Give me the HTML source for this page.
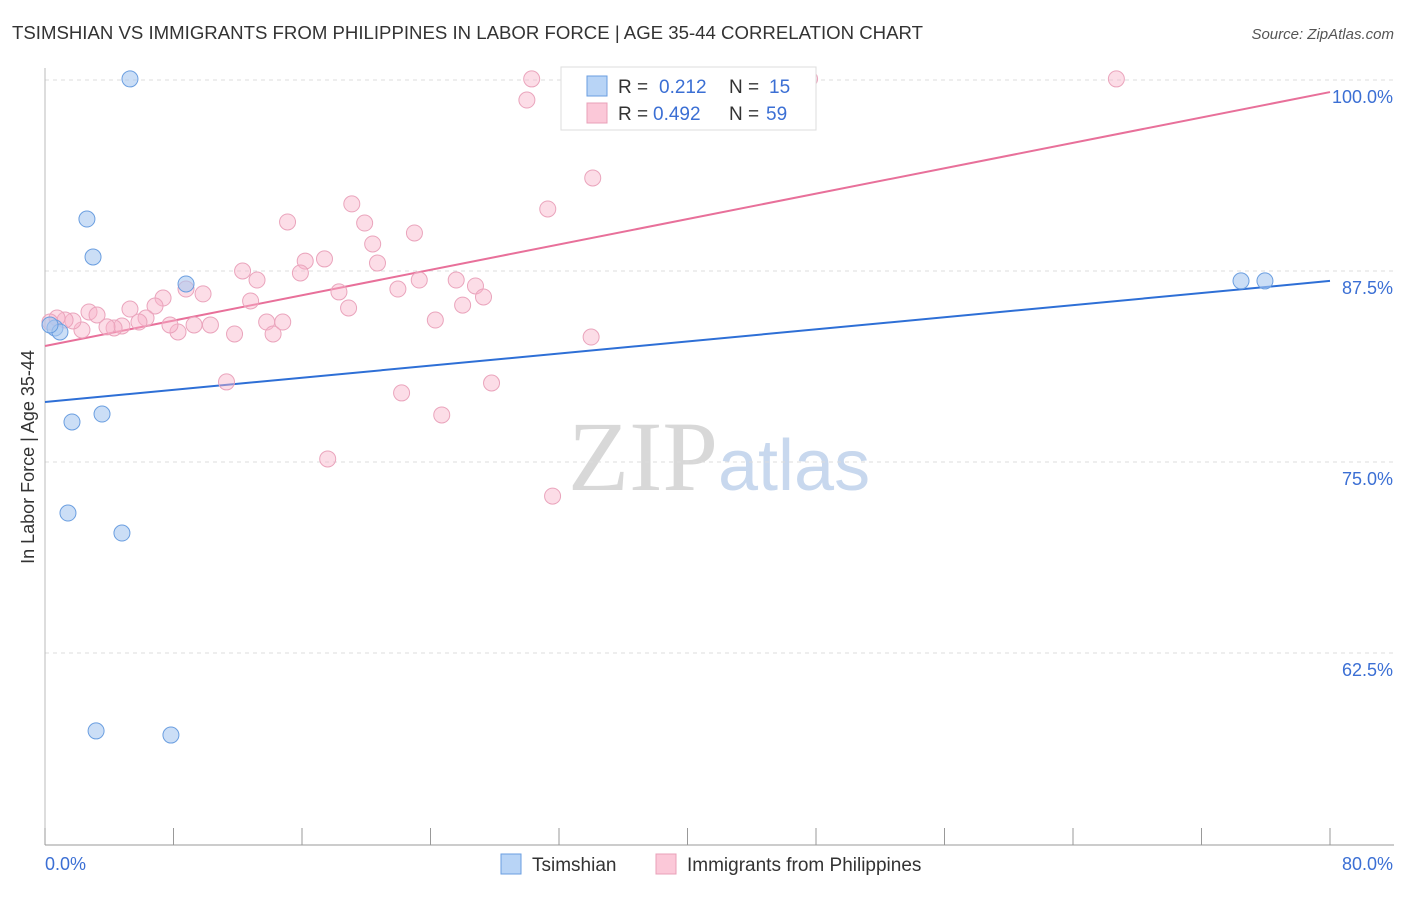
<!DOCTYPE html>
<html><head><meta charset="utf-8"><style>
body{margin:0;background:#fff;font-family:"Liberation Sans",sans-serif;}
</style></head><body>
<svg id="chart" width="1406" height="892" xmlns="http://www.w3.org/2000/svg" font-family="Liberation Sans, sans-serif">
<text x="12" y="39" font-size="18" fill="#333" textLength="911" lengthAdjust="spacingAndGlyphs">TSIMSHIAN VS IMMIGRANTS FROM PHILIPPINES IN LABOR FORCE | AGE 35-44 CORRELATION CHART</text>
<text x="1394" y="39" font-size="15" fill="#555" text-anchor="end" font-style="italic">Source: ZipAtlas.com</text>
<text transform="translate(34,457) rotate(-90)" font-size="18" fill="#333" text-anchor="middle">In Labor Force | Age 35-44</text>
<text x="718" y="490" font-size="100" text-anchor="end" fill="#d8d8d8" font-family="Liberation Serif, serif">ZIP</text>
<text x="718" y="490" font-size="72" fill="#c8d8ee">atlas</text>
<g id="grid"></g><g id="axes"></g><g id="lines"></g><g id="points"></g>
<g>
<rect x="561" y="67" width="255" height="63" fill="#fff" stroke="#ddd"/>
<rect x="587" y="76" width="20" height="20" fill="#b8d4f6" stroke="#6a9ee0"/>
<rect x="587" y="103" width="20" height="20" fill="#fbc8d8" stroke="#e8a0b8"/>
<text x="618" y="93" font-size="19" fill="#333">R =</text>
<text x="659" y="93" font-size="19" fill="#3b6fd4">0.212</text>
<text x="729" y="93" font-size="19" fill="#333">N =</text>
<text x="769" y="93" font-size="19" fill="#3b6fd4">15</text>
<text x="618" y="120" font-size="19" fill="#333">R =</text>
<text x="653" y="120" font-size="19" fill="#3b6fd4">0.492</text>
<text x="729" y="120" font-size="19" fill="#333">N =</text>
<text x="766" y="120" font-size="19" fill="#3b6fd4">59</text>
</g>
<g>
<rect x="501" y="854" width="20" height="20" fill="#b8d4f6" stroke="#6a9ee0"/>
<text x="532" y="871" font-size="19" fill="#333">Tsimshian</text>
<rect x="656" y="854" width="20" height="20" fill="#fbc8d8" stroke="#e8a0b8"/>
<text x="687" y="871" font-size="19" fill="#333">Immigrants from Philippines</text>
</g>
</svg>
<script>
const xTickLabels=["0.0%","80.0%"];
const yTicks=[100,87.5,75,62.5];
const yTickLabels=["100.0%","87.5%","75.0%","62.5%"];
const blueX=[5.29,2.61,2.99,8.78,0.62,0.93,1.68,3.55,1.43,4.79,3.18,7.84,74.46,75.95,0.31];
const blueY=[100.07,90.90,88.42,86.65,83.77,83.51,77.62,78.14,71.66,70.35,57.40,57.13,86.85,86.85,83.97];
const pinkX=[30.3,47.6,66.7,30.0,34.1,31.3,19.1,15.1,19.9,23.0,20.4,17.4,20.7,16.2,12.3,13.2,15.9,23.3,25.6,26.8,21.97,27.3,18.3,26.0,18.9,8.78,9.84,7.35,6.85,5.29,2.74,3.24,12.8,24.3,13.8,14.8,34.0,14.2,11.8,10.3,9.28,8.28,7.78,6.29,5.85,4.79,4.30,3.86,2.30,1.74,1.25,0.75,0.31,11.3,22.2,24.7,27.8,17.6,31.6];
const pinkY=[100.07,100.07,100.07,98.69,93.59,91.56,91.89,90.71,90.64,89.99,89.27,88.29,88.02,88.15,87.50,86.91,87.37,86.91,86.91,86.52,86.32,85.80,86.13,85.27,85.08,86.32,86.00,85.73,85.21,85.01,84.82,84.62,85.54,84.29,84.16,84.16,83.18,83.38,83.38,83.97,83.97,83.51,83.97,84.42,84.16,83.90,83.77,83.84,83.64,84.23,84.29,84.42,84.16,80.24,79.52,78.08,80.17,75.20,72.77];
const blueTrend=[78.93,86.85];
const pinkTrend=[82.59,99.21];
const NS="http://www.w3.org/2000/svg";
const X=v=>45+v/80*1285, Y=v=>80+(100-v)/12.5*191;
function mk(t,a,p){const e=document.createElementNS(NS,t);for(const k in a)e.setAttribute(k,a[k]);p.appendChild(e);return e;}
const grid=document.getElementById('grid'),axes=document.getElementById('axes');
yTicks.forEach((t,i)=>{
 const l=mk('line',{x1:45,x2:1394,y1:Y(t),y2:Y(t),stroke:'#ddd','stroke-dasharray':'4,4'},grid);
 
 
 const tx=mk('text',{x:1393,y:Y(t)+23,'font-size':18,fill:'#3b6fd4','text-anchor':'end'},axes);
 tx.textContent=yTickLabels[i];
 
 
});
const xa=mk('line',{x1:45,x2:1394,y1:845,y2:845,stroke:'#999'},axes);


const ya=mk('line',{x1:45,x2:45,y1:68,y2:845,stroke:'#bbb'},axes);


for(let v=0;v<=80;v+=8){const t=mk('line',{x1:X(v),x2:X(v),y1:828,y2:845,stroke:'#999'},axes);
 
 }
[[0,'start'],[80,'end']].forEach((d,i)=>{const t=mk('text',{x:i?1393:45,y:870,'font-size':18,fill:'#3b6fd4','text-anchor':d[1]},axes);t.textContent=xTickLabels[i];
 
 });
const pts=document.getElementById('points');
pinkX.forEach((x,i)=>{const c=mk('circle',{cx:X(x),cy:Y(pinkY[i]),r:8,fill:'rgba(249,180,202,0.45)',stroke:'#eaa4bc','stroke-width':1},pts);
 
 });
blueX.forEach((x,i)=>{const c=mk('circle',{cx:X(x),cy:Y(blueY[i]),r:8,fill:'rgba(168,200,240,0.6)',stroke:'#6a9ee0','stroke-width':1},pts);
 
 });
const lines=document.getElementById('lines');
const bl=mk('line',{x1:X(0),y1:Y(blueTrend[0]),x2:X(80),y2:Y(blueTrend[1]),stroke:'#2e6fd6','stroke-width':2},lines);


const pl=mk('line',{x1:X(0),y1:Y(pinkTrend[0]),x2:X(80),y2:Y(pinkTrend[1]),stroke:'#e8709a','stroke-width':2},lines);


</script>
</body></html>
